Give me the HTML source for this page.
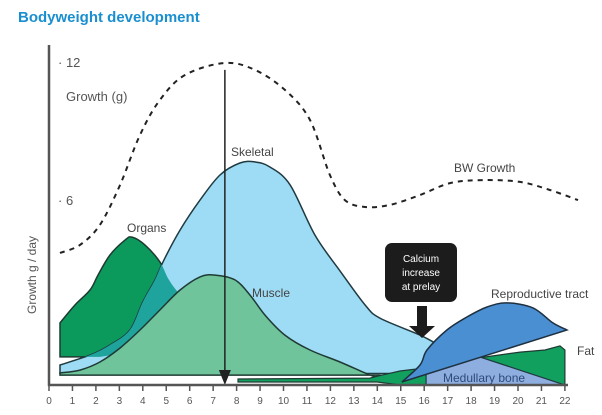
<!DOCTYPE html>
<html><head><meta charset="utf-8">
<style>
html,body{margin:0;padding:0;background:#fff;}
svg{display:block;font-family:"Liberation Sans",sans-serif;}
</style></head>
<body>
<svg id="chart" width="602" height="415" viewBox="0 0 602 415" xmlns="http://www.w3.org/2000/svg">
  <defs><clipPath id="skelClip"><path id="skelClipPath"/></clipPath></defs>
  <text x="18" y="22" font-size="15" font-weight="bold" fill="#1a8fd0">Bodyweight development</text>
  <g id="marks"></g>
  <g id="axes"></g>
  <g id="labels">
    <text transform="translate(36,275) rotate(-90)" text-anchor="middle" font-size="12" fill="#555">Growth g / day</text>
    <text x="66" y="101" font-size="13" fill="#555">Growth (g)</text>
    <text x="231" y="156" font-size="12" fill="#444">Skeletal</text>
    <text x="454" y="172" font-size="12" fill="#444">BW Growth</text>
    <text x="127" y="232" font-size="12" fill="#444">Organs</text>
    <text x="252" y="297" font-size="12" fill="#444">Muscle</text>
    <text x="491" y="298" font-size="12" fill="#444">Reproductive tract</text>
    <text x="577" y="355" font-size="12" fill="#444">Fat</text>
    <text x="443" y="382" font-size="12" fill="#2e4a7a">Medullary bone</text>
    <g>
      <rect x="385" y="243" width="72" height="59" rx="7" fill="#1c1c1c"/>
      <text x="421" y="262" text-anchor="middle" font-size="10" fill="#fff">Calcium</text>
      <text x="421" y="276" text-anchor="middle" font-size="10" fill="#fff">increase</text>
      <text x="421" y="290" text-anchor="middle" font-size="10" fill="#fff">at prelay</text>
      <rect x="417" y="306" width="10" height="21" fill="#1c1c1c"/>
      <polygon points="409,326 435,326 422,338" fill="#1c1c1c"/>
    </g>
  </g>
</svg>
<script>
const xTicks = [0,1,2,3,4,5,6,7,8,9,10,11,12,13,14,15,16,17,18,19,20,21,22];
const yTickValues = [14.04, 8.04];
const yTickLabels = ['12', '6'];
const bwGrowth = [[0.47,5.74],[1.32,6.09],[2.17,6.96],[3.03,8.7],[3.88,10.87],[4.73,12.39],[5.8,13.48],[7.5,14.0],[8.78,13.7],[10.06,12.83],[11.13,11.52],[11.98,9.13],[12.62,8.04],[13.48,7.74],[14.54,7.83],[15.82,8.26],[17.1,8.78],[18.51,8.91],[20.09,8.83],[21.36,8.48],[22.56,8.04]];
const skeletal = [[0.47,0.87],[1.75,1.3],[2.6,1.74],[3.45,2.39],[4.0,3.61],[4.52,4.57],[4.86,5.35],[5.59,6.74],[6.44,8.04],[7.29,9.13],[8.14,9.65],[8.78,9.7],[9.42,9.48],[10.28,8.7],[11.34,6.52],[12.41,4.96],[13.48,3.48],[14.11,2.91],[15.82,2.17],[16.67,1.7]];
const skeletalBase = [[16.67,0.5],[0.47,0.5]];
const organs = [[0.47,2.7],[1.11,3.48],[1.75,4.13],[2.09,4.78],[2.6,5.65],[3.24,6.3],[3.54,6.43],[4.09,6.09],[4.73,5.35],[5.07,4.65],[5.42,4.13],[5.8,3.7]];
const organsBase = [[5.16,2.83],[4.3,1.96],[3.03,1.35],[2.17,1.22],[0.47,1.22]];
const muscle = [[0.47,0.52],[1.32,0.65],[2.17,1.0],[3.03,1.61],[3.88,2.39],[4.73,3.26],[5.59,4.13],[6.44,4.7],[7.08,4.78],[7.93,4.57],[8.57,3.91],[9.21,3.04],[10.06,2.17],[11.13,1.52],[12.41,1.0],[13.69,0.43],[14.11,0.3]];
const muscleBase = [[14.11,0.43],[0.47,0.43]];
const fat = [[8.06,0.26],[13.69,0.3],[14.03,0.39],[14.97,0.61],[16.03,0.74],[16.59,0.91],[18.25,1.17],[20.09,1.43],[21.15,1.52],[21.79,1.7],[22.0,1.52],[22.0,0],[15.0,0],[14.0,0.13],[8.06,0.13]];
const medullary = [[16.08,0],[16.08,0.57],[18.25,1.26],[22.0,0]];
const repro = [[15.05,0.13],[15.82,0.87],[16.12,1.52],[16.97,2.39],[17.83,2.96],[18.68,3.39],[19.53,3.57],[20.64,3.35],[21.49,2.7],[22.09,2.39]];
const arrowWeek = 7.5;

const X = w => 49 + w * 23.45;
const Y = v => 385 - v * 23;
const NS = 'http://www.w3.org/2000/svg';
const marks = document.getElementById('marks');
const axes = document.getElementById('axes');

function smooth(pts) {
  const p = pts.map(d => [X(d[0]), Y(d[1])]);
  let s = 'M' + p[0][0].toFixed(1) + ',' + p[0][1].toFixed(1);
  for (let i = 0; i < p.length - 1; i++) {
    const p0 = p[i-1] || p[i], p1 = p[i], p2 = p[i+1], p3 = p[i+2] || p2;
    const c1 = [p1[0] + (p2[0]-p0[0])/6, p1[1] + (p2[1]-p0[1])/6];
    const c2 = [p2[0] - (p3[0]-p1[0])/6, p2[1] - (p3[1]-p1[1])/6];
    s += ' C' + c1[0].toFixed(1)+','+c1[1].toFixed(1)+' '+c2[0].toFixed(1)+','+c2[1].toFixed(1)+' '+p2[0].toFixed(1)+','+p2[1].toFixed(1);
  }
  return s;
}
function lines(pts) { return pts.map(d => ' L' + X(d[0]).toFixed(1) + ',' + Y(d[1]).toFixed(1)).join(''); }
function mk(tag, attrs, parent) {
  const el = document.createElementNS(NS, tag);
  for (const k in attrs) el.setAttribute(k, attrs[k]);
  (parent || marks).appendChild(el);
  return el;
}

const skelD = smooth(skeletal) + lines(skeletalBase) + ' Z';
document.getElementById('skelClipPath').setAttribute('d', skelD);
const organsD = smooth(organs) + lines(organsBase) + ' Z';

let el = mk('path', {d: organsD, fill: '#0b9a5c', stroke: '#1f3a33', 'stroke-width': 1.5});



el = mk('path', {d: skelD, fill: '#9edcf5', stroke: '#1f3a40', 'stroke-width': 1.5});



el = mk('path', {d: organsD, fill: '#1ea39d', 'clip-path': 'url(#skelClip)'});



el = mk('path', {d: smooth(muscle) + lines(muscleBase) + ' Z', fill: '#6fc49b', stroke: '#1f3a33', 'stroke-width': 1.5});



el = mk('path', {d: 'M' + X(fat[0][0]) + ',' + Y(fat[0][1]) + lines(fat.slice(1)) + ' Z', fill: '#12a05e', stroke: '#1f3a33', 'stroke-width': 1.2});



el = mk('path', {d: 'M' + X(medullary[0][0]) + ',' + Y(medullary[0][1]) + lines(medullary.slice(1)) + ' Z', fill: '#8eaee0', stroke: '#1f3a40', 'stroke-width': 1.2});



el = mk('path', {d: smooth(repro) + ' Z', fill: '#4a8fd2', stroke: '#1f3040', 'stroke-width': 1.5});



el = mk('path', {d: smooth(bwGrowth), fill: 'none', stroke: '#222', 'stroke-width': 2, 'stroke-dasharray': '5,5'});



el = mk('line', {x1: X(arrowWeek), y1: Y(13.7), x2: X(arrowWeek), y2: 372, stroke: '#222', 'stroke-width': 1.5});


el = mk('polygon', {points: (X(arrowWeek)-6)+',370 '+(X(arrowWeek)+6)+',370 '+X(arrowWeek)+',385', fill: '#222'});



el = mk('line', {x1: 49, y1: 45, x2: 49, y2: 386, stroke: '#555', 'stroke-width': 2.5}, axes);


el = mk('line', {x1: 48, y1: 385, x2: 568, y2: 385, stroke: '#555', 'stroke-width': 2.5}, axes);



xTicks.forEach(t => {
  const tk = mk('line', {x1: X(t), y1: 385, x2: X(t), y2: 391, stroke: '#555', 'stroke-width': 1.5}, axes);
  
  
  const lb = mk('text', {x: X(t), y: 404, 'text-anchor': 'middle', 'font-size': 10, fill: '#555'}, axes);
  
  
  lb.textContent = t;
});
yTickValues.forEach((v, i) => {
  const lb = mk('text', {x: 58, y: Y(v) + 5, 'font-size': 13, fill: '#555'}, axes);
  
  
  lb.textContent = '· ' + yTickLabels[i];
});
</script>
</body></html>
